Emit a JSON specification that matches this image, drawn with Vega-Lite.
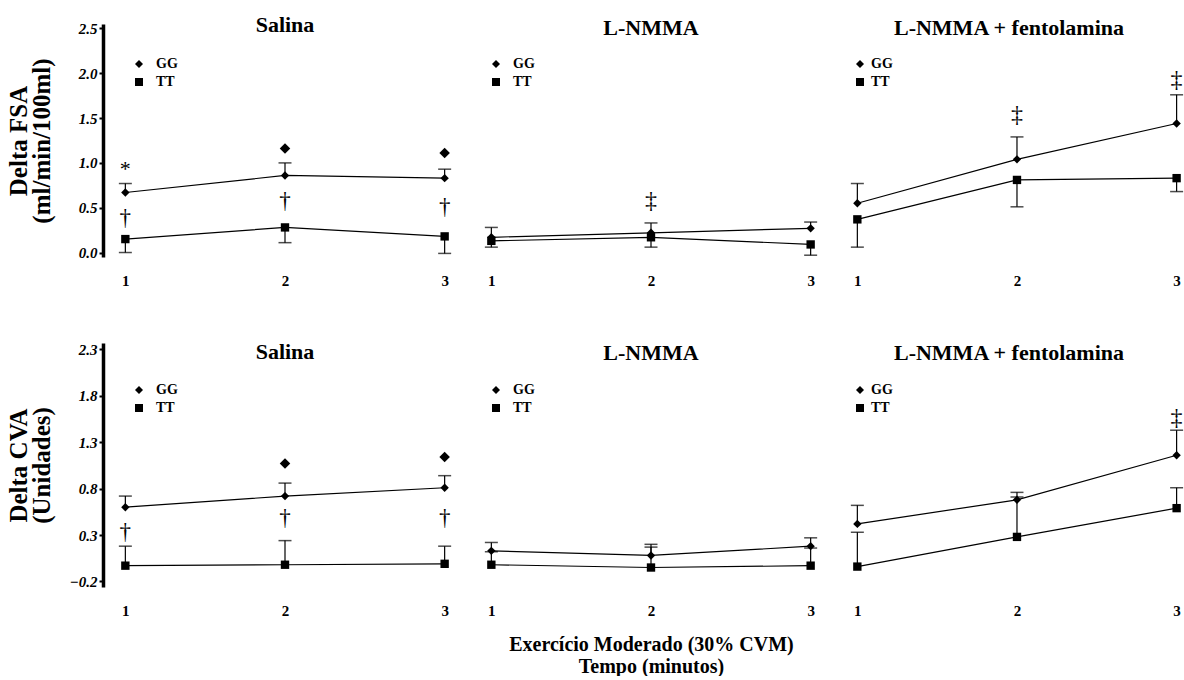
{
  "$schema": "https://vega.github.io/schema/vega-lite/v6.json",
  "padding": {"left": 5, "top": 14, "right": 0, "bottom": 0},
  "background": "white",
  "config": {
    "view": {"stroke": null},
    "font": "Liberation Serif",
    "title": {"font": "Liberation Serif", "fontSize": 22, "fontWeight": "bold", "color": "black"},
    "legend": {"padding": 0}
  },
  "datasets": {
    "pts": [
      {"m": "FSA", "p": "Salina", "grp": "GG", "t": 1, "v": 0.67, "e": 0.77},
      {"m": "FSA", "p": "Salina", "grp": "GG", "t": 2, "v": 0.86, "e": 1.0},
      {"m": "FSA", "p": "Salina", "grp": "GG", "t": 3, "v": 0.83, "e": 0.93},
      {"m": "FSA", "p": "Salina", "grp": "TT", "t": 1, "v": 0.15, "e": 0.0},
      {"m": "FSA", "p": "Salina", "grp": "TT", "t": 2, "v": 0.28, "e": 0.11},
      {"m": "FSA", "p": "Salina", "grp": "TT", "t": 3, "v": 0.18, "e": -0.01},
      {"m": "FSA", "p": "L-NMMA", "grp": "GG", "t": 1, "v": 0.17, "e": 0.28},
      {"m": "FSA", "p": "L-NMMA", "grp": "GG", "t": 2, "v": 0.22, "e": 0.33},
      {"m": "FSA", "p": "L-NMMA", "grp": "GG", "t": 3, "v": 0.27, "e": 0.34},
      {"m": "FSA", "p": "L-NMMA", "grp": "TT", "t": 1, "v": 0.13, "e": 0.06},
      {"m": "FSA", "p": "L-NMMA", "grp": "TT", "t": 2, "v": 0.17, "e": 0.06},
      {"m": "FSA", "p": "L-NMMA", "grp": "TT", "t": 3, "v": 0.09, "e": -0.03},
      {"m": "FSA", "p": "L-NMMA + fentolamina", "grp": "GG", "t": 1, "v": 0.55, "e": 0.77},
      {"m": "FSA", "p": "L-NMMA + fentolamina", "grp": "GG", "t": 2, "v": 1.04, "e": 1.29},
      {"m": "FSA", "p": "L-NMMA + fentolamina", "grp": "GG", "t": 3, "v": 1.44, "e": 1.76},
      {"m": "FSA", "p": "L-NMMA + fentolamina", "grp": "TT", "t": 1, "v": 0.37, "e": 0.06},
      {"m": "FSA", "p": "L-NMMA + fentolamina", "grp": "TT", "t": 2, "v": 0.81, "e": 0.51},
      {"m": "FSA", "p": "L-NMMA + fentolamina", "grp": "TT", "t": 3, "v": 0.83, "e": 0.68},
      {"m": "CVA", "p": "Salina", "grp": "GG", "t": 1, "v": 0.6, "e": 0.72},
      {"m": "CVA", "p": "Salina", "grp": "GG", "t": 2, "v": 0.72, "e": 0.86},
      {"m": "CVA", "p": "Salina", "grp": "GG", "t": 3, "v": 0.81, "e": 0.94},
      {"m": "CVA", "p": "Salina", "grp": "TT", "t": 1, "v": -0.03, "e": 0.18},
      {"m": "CVA", "p": "Salina", "grp": "TT", "t": 2, "v": -0.02, "e": 0.24},
      {"m": "CVA", "p": "Salina", "grp": "TT", "t": 3, "v": -0.01, "e": 0.18},
      {"m": "CVA", "p": "L-NMMA", "grp": "GG", "t": 1, "v": 0.13, "e": 0.22},
      {"m": "CVA", "p": "L-NMMA", "grp": "GG", "t": 2, "v": 0.08, "e": 0.2},
      {"m": "CVA", "p": "L-NMMA", "grp": "GG", "t": 3, "v": 0.18, "e": 0.27},
      {"m": "CVA", "p": "L-NMMA", "grp": "TT", "t": 1, "v": -0.02, "e": 0.12},
      {"m": "CVA", "p": "L-NMMA", "grp": "TT", "t": 2, "v": -0.05, "e": 0.17},
      {"m": "CVA", "p": "L-NMMA", "grp": "TT", "t": 3, "v": -0.03, "e": 0.16},
      {"m": "CVA", "p": "L-NMMA + fentolamina", "grp": "GG", "t": 1, "v": 0.42, "e": 0.62},
      {"m": "CVA", "p": "L-NMMA + fentolamina", "grp": "GG", "t": 2, "v": 0.68, "e": 0.76},
      {"m": "CVA", "p": "L-NMMA + fentolamina", "grp": "GG", "t": 3, "v": 1.16, "e": 1.43},
      {"m": "CVA", "p": "L-NMMA + fentolamina", "grp": "TT", "t": 1, "v": -0.04, "e": 0.33},
      {"m": "CVA", "p": "L-NMMA + fentolamina", "grp": "TT", "t": 2, "v": 0.28, "e": 0.71},
      {"m": "CVA", "p": "L-NMMA + fentolamina", "grp": "TT", "t": 3, "v": 0.59, "e": 0.81}
    ],
    "ann": [
      {"m": "FSA", "p": "Salina", "t": 1, "y": 0.93, "s": "*"},
      {"m": "FSA", "p": "Salina", "t": 1, "y": 0.39, "s": "†"},
      {"m": "FSA", "p": "Salina", "t": 2, "y": 0.57, "s": "†"},
      {"m": "FSA", "p": "Salina", "t": 3, "y": 0.51, "s": "†"},
      {"m": "FSA", "p": "Salina", "t": 2, "y": 1.16, "s": "◆"},
      {"m": "FSA", "p": "Salina", "t": 3, "y": 1.11, "s": "◆"},
      {"m": "FSA", "p": "L-NMMA", "t": 2, "y": 0.58, "s": "‡"},
      {"m": "FSA", "p": "L-NMMA + fentolamina", "t": 2, "y": 1.53, "s": "‡"},
      {"m": "FSA", "p": "L-NMMA + fentolamina", "t": 3, "y": 1.92, "s": "‡"},
      {"m": "CVA", "p": "Salina", "t": 1, "y": 0.33, "s": "†"},
      {"m": "CVA", "p": "Salina", "t": 2, "y": 0.48, "s": "†"},
      {"m": "CVA", "p": "Salina", "t": 3, "y": 0.48, "s": "†"},
      {"m": "CVA", "p": "Salina", "t": 2, "y": 1.07, "s": "◆"},
      {"m": "CVA", "p": "Salina", "t": 3, "y": 1.14, "s": "◆"},
      {"m": "CVA", "p": "L-NMMA + fentolamina", "t": 3, "y": 1.56, "s": "‡"}
    ]
  },
  "spacing": 53,
  "resolve": {"scale": {"shape": "independent"}, "legend": {"shape": "independent"}},
  "vconcat": [
    {
      "bounds": "flush",
      "spacing": 2,
      "resolve": {"scale": {"shape": "independent"}, "legend": {"shape": "independent"}},
      "hconcat": [
        {
          "width": 364, "height": 233,
          "title": {"text": "Salina", "offset": -16},
          "encoding": {"x": {"field": "t", "type": "quantitative", "scale": {"domain": [0.86, 3.14], "nice": false, "zero": false}, "axis": {"values": [1, 2, 3], "format": "d", "title": null, "domain": false, "ticks": false, "grid": false, "labelFlush": false, "labelPadding": 16, "labelFont": "Liberation Serif", "labelFontSize": 15, "labelFontWeight": "bold", "labelColor": "black"}}},
          "layer": [
            {"data": {"name": "pts"}, "transform": [{"filter": "datum.m == 'FSA' && datum.p == 'Salina'"}], "mark": {"type": "rule", "color": "black", "strokeWidth": 1.2},
             "encoding": {"y": {"field": "v", "type": "quantitative", "scale": {"domain": [-0.05, 2.55], "nice": false, "zero": false}, "axis": {"title": ["Delta FSA", "(ml/min/100ml)"], "values": [0, 0.5, 1, 1.5, 2, 2.5], "format": ".1f", "grid": false, "domainColor": "black", "domainWidth": 3.5, "tickColor": "black", "tickSize": 4, "tickWidth": 2, "labelPadding": 2, "labelFont": "Liberation Serif", "labelFontSize": 15, "labelFontWeight": "bold", "labelFontStyle": "italic", "labelColor": "black", "titleFont": "Liberation Serif", "titleFontSize": 25, "titleFontWeight": "bold", "titleLineHeight": 23, "titleColor": "black", "titleX": -72}}, "y2": {"field": "e"}}},
            {"data": {"name": "pts"}, "transform": [{"filter": "datum.m == 'FSA' && datum.p == 'Salina'"}], "mark": {"type": "tick", "orient": "horizontal", "color": "black", "thickness": 1.5, "size": 13},
             "encoding": {"y": {"field": "e", "type": "quantitative", "scale": {"domain": [-0.05, 2.55], "nice": false, "zero": false}, "axis": {"title": ["Delta FSA", "(ml/min/100ml)"], "values": [0, 0.5, 1, 1.5, 2, 2.5], "format": ".1f", "grid": false, "domainColor": "black", "domainWidth": 3.5, "tickColor": "black", "tickSize": 4, "tickWidth": 2, "labelPadding": 2, "labelFont": "Liberation Serif", "labelFontSize": 15, "labelFontWeight": "bold", "labelFontStyle": "italic", "labelColor": "black", "titleFont": "Liberation Serif", "titleFontSize": 25, "titleFontWeight": "bold", "titleLineHeight": 23, "titleColor": "black", "titleX": -72}}}},
            {"data": {"name": "pts"}, "transform": [{"filter": "datum.m == 'FSA' && datum.p == 'Salina'"}], "mark": {"type": "line", "color": "black", "strokeWidth": 1.2},
             "encoding": {"y": {"field": "v", "type": "quantitative", "scale": {"domain": [-0.05, 2.55], "nice": false, "zero": false}, "axis": {"title": ["Delta FSA", "(ml/min/100ml)"], "values": [0, 0.5, 1, 1.5, 2, 2.5], "format": ".1f", "grid": false, "domainColor": "black", "domainWidth": 3.5, "tickColor": "black", "tickSize": 4, "tickWidth": 2, "labelPadding": 2, "labelFont": "Liberation Serif", "labelFontSize": 15, "labelFontWeight": "bold", "labelFontStyle": "italic", "labelColor": "black", "titleFont": "Liberation Serif", "titleFontSize": 25, "titleFontWeight": "bold", "titleLineHeight": 23, "titleColor": "black", "titleX": -72}}, "detail": {"field": "grp"}, "order": {"field": "t"}}},
            {"data": {"name": "pts"}, "transform": [{"filter": "datum.m == 'FSA' && datum.p == 'Salina'"}], "mark": {"type": "point", "filled": true, "color": "black", "opacity": 1, "size": 70},
             "encoding": {"y": {"field": "v", "type": "quantitative", "scale": {"domain": [-0.05, 2.55], "nice": false, "zero": false}, "axis": {"title": ["Delta FSA", "(ml/min/100ml)"], "values": [0, 0.5, 1, 1.5, 2, 2.5], "format": ".1f", "grid": false, "domainColor": "black", "domainWidth": 3.5, "tickColor": "black", "tickSize": 4, "tickWidth": 2, "labelPadding": 2, "labelFont": "Liberation Serif", "labelFontSize": 15, "labelFontWeight": "bold", "labelFontStyle": "italic", "labelColor": "black", "titleFont": "Liberation Serif", "titleFontSize": 25, "titleFontWeight": "bold", "titleLineHeight": 23, "titleColor": "black", "titleX": -72}},
               "shape": {"field": "grp", "type": "nominal", "scale": {"domain": ["GG", "TT"], "range": ["diamond", "square"]}, "legend": {"orient": "none", "legendX": 29, "legendY": 33, "title": null, "labelFont": "Liberation Serif", "labelFontSize": 14, "labelFontWeight": "bold", "labelColor": "black", "labelOffset": 10, "symbolSize": 64, "symbolFillColor": "black", "symbolStrokeColor": "black", "symbolOpacity": 1, "rowPadding": 4}}}},
            {"data": {"name": "ann"}, "transform": [{"filter": "datum.m == 'FSA' && datum.p == 'Salina' && datum.s == '◆'"}], "mark": {"type": "point", "shape": "diamond", "filled": true, "color": "black", "opacity": 1, "size": 110},
             "encoding": {"y": {"field": "y", "type": "quantitative", "scale": {"domain": [-0.05, 2.55], "nice": false, "zero": false}, "axis": {"title": ["Delta FSA", "(ml/min/100ml)"], "values": [0, 0.5, 1, 1.5, 2, 2.5], "format": ".1f", "grid": false, "domainColor": "black", "domainWidth": 3.5, "tickColor": "black", "tickSize": 4, "tickWidth": 2, "labelPadding": 2, "labelFont": "Liberation Serif", "labelFontSize": 15, "labelFontWeight": "bold", "labelFontStyle": "italic", "labelColor": "black", "titleFont": "Liberation Serif", "titleFontSize": 25, "titleFontWeight": "bold", "titleLineHeight": 23, "titleColor": "black", "titleX": -72}}}},
            {"data": {"name": "ann"}, "transform": [{"filter": "datum.m == 'FSA' && datum.p == 'Salina' && datum.s != '◆'"}], "mark": {"type": "text", "color": "black", "font": "Liberation Serif", "baseline": "middle"},
             "encoding": {"y": {"field": "y", "type": "quantitative", "scale": {"domain": [-0.05, 2.55], "nice": false, "zero": false}, "axis": {"title": ["Delta FSA", "(ml/min/100ml)"], "values": [0, 0.5, 1, 1.5, 2, 2.5], "format": ".1f", "grid": false, "domainColor": "black", "domainWidth": 3.5, "tickColor": "black", "tickSize": 4, "tickWidth": 2, "labelPadding": 2, "labelFont": "Liberation Serif", "labelFontSize": 15, "labelFontWeight": "bold", "labelFontStyle": "italic", "labelColor": "black", "titleFont": "Liberation Serif", "titleFontSize": 25, "titleFontWeight": "bold", "titleLineHeight": 23, "titleColor": "black", "titleX": -72}},
               "text": {"field": "s"}, "size": {"field": "s", "type": "nominal", "scale": {"domain": ["*", "†", "‡"], "range": [22, 24, 24]}, "legend": null}}}
          ]
        },
        {
          "width": 364, "height": 233,
          "title": {"text": "L-NMMA", "offset": -16},
          "encoding": {"x": {"field": "t", "type": "quantitative", "scale": {"domain": [0.86, 3.14], "nice": false, "zero": false}, "axis": {"values": [1, 2, 3], "format": "d", "title": null, "domain": false, "ticks": false, "grid": false, "labelFlush": false, "labelPadding": 16, "labelFont": "Liberation Serif", "labelFontSize": 15, "labelFontWeight": "bold", "labelColor": "black"}}},
          "layer": [
            {"data": {"name": "pts"}, "transform": [{"filter": "datum.m == 'FSA' && datum.p == 'L-NMMA'"}], "mark": {"type": "rule", "color": "black", "strokeWidth": 1.2},
             "encoding": {"y": {"field": "v", "type": "quantitative", "scale": {"domain": [-0.05, 2.55], "nice": false, "zero": false}, "axis": null}, "y2": {"field": "e"}}},
            {"data": {"name": "pts"}, "transform": [{"filter": "datum.m == 'FSA' && datum.p == 'L-NMMA'"}], "mark": {"type": "tick", "orient": "horizontal", "color": "black", "thickness": 1.5, "size": 13},
             "encoding": {"y": {"field": "e", "type": "quantitative", "scale": {"domain": [-0.05, 2.55], "nice": false, "zero": false}, "axis": null}}},
            {"data": {"name": "pts"}, "transform": [{"filter": "datum.m == 'FSA' && datum.p == 'L-NMMA'"}], "mark": {"type": "line", "color": "black", "strokeWidth": 1.2},
             "encoding": {"y": {"field": "v", "type": "quantitative", "scale": {"domain": [-0.05, 2.55], "nice": false, "zero": false}, "axis": null}, "detail": {"field": "grp"}, "order": {"field": "t"}}},
            {"data": {"name": "pts"}, "transform": [{"filter": "datum.m == 'FSA' && datum.p == 'L-NMMA'"}], "mark": {"type": "point", "filled": true, "color": "black", "opacity": 1, "size": 70},
             "encoding": {"y": {"field": "v", "type": "quantitative", "scale": {"domain": [-0.05, 2.55], "nice": false, "zero": false}, "axis": null},
               "shape": {"field": "grp", "type": "nominal", "scale": {"domain": ["GG", "TT"], "range": ["diamond", "square"]}, "legend": {"orient": "none", "legendX": 20, "legendY": 33, "title": null, "labelFont": "Liberation Serif", "labelFontSize": 14, "labelFontWeight": "bold", "labelColor": "black", "labelOffset": 10, "symbolSize": 64, "symbolFillColor": "black", "symbolStrokeColor": "black", "symbolOpacity": 1, "rowPadding": 4}}}},
            {"data": {"name": "ann"}, "transform": [{"filter": "datum.m == 'FSA' && datum.p == 'L-NMMA'"}], "mark": {"type": "text", "color": "black", "font": "Liberation Serif", "baseline": "middle"},
             "encoding": {"y": {"field": "y", "type": "quantitative", "scale": {"domain": [-0.05, 2.55], "nice": false, "zero": false}, "axis": null},
               "text": {"field": "s"}, "size": {"field": "s", "type": "nominal", "scale": {"domain": ["*", "†", "‡"], "range": [22, 24, 24]}, "legend": null}}}
          ]
        },
        {
          "width": 348, "height": 233,
          "title": {"text": "L-NMMA + fentolamina", "offset": -16},
          "encoding": {"x": {"field": "t", "type": "quantitative", "scale": {"domain": [0.86, 3.04], "nice": false, "zero": false}, "axis": {"values": [1, 2, 3], "format": "d", "title": null, "domain": false, "ticks": false, "grid": false, "labelFlush": false, "labelPadding": 16, "labelFont": "Liberation Serif", "labelFontSize": 15, "labelFontWeight": "bold", "labelColor": "black"}}},
          "layer": [
            {"data": {"name": "pts"}, "transform": [{"filter": "datum.m == 'FSA' && datum.p == 'L-NMMA + fentolamina'"}], "mark": {"type": "rule", "color": "black", "strokeWidth": 1.2},
             "encoding": {"y": {"field": "v", "type": "quantitative", "scale": {"domain": [-0.05, 2.55], "nice": false, "zero": false}, "axis": null}, "y2": {"field": "e"}}},
            {"data": {"name": "pts"}, "transform": [{"filter": "datum.m == 'FSA' && datum.p == 'L-NMMA + fentolamina'"}], "mark": {"type": "tick", "orient": "horizontal", "color": "black", "thickness": 1.5, "size": 13},
             "encoding": {"y": {"field": "e", "type": "quantitative", "scale": {"domain": [-0.05, 2.55], "nice": false, "zero": false}, "axis": null}}},
            {"data": {"name": "pts"}, "transform": [{"filter": "datum.m == 'FSA' && datum.p == 'L-NMMA + fentolamina'"}], "mark": {"type": "line", "color": "black", "strokeWidth": 1.2},
             "encoding": {"y": {"field": "v", "type": "quantitative", "scale": {"domain": [-0.05, 2.55], "nice": false, "zero": false}, "axis": null}, "detail": {"field": "grp"}, "order": {"field": "t"}}},
            {"data": {"name": "pts"}, "transform": [{"filter": "datum.m == 'FSA' && datum.p == 'L-NMMA + fentolamina'"}], "mark": {"type": "point", "filled": true, "color": "black", "opacity": 1, "size": 70},
             "encoding": {"y": {"field": "v", "type": "quantitative", "scale": {"domain": [-0.05, 2.55], "nice": false, "zero": false}, "axis": null},
               "shape": {"field": "grp", "type": "nominal", "scale": {"domain": ["GG", "TT"], "range": ["diamond", "square"]}, "legend": {"orient": "none", "legendX": 18, "legendY": 33, "title": null, "labelFont": "Liberation Serif", "labelFontSize": 14, "labelFontWeight": "bold", "labelColor": "black", "labelOffset": 4, "symbolSize": 64, "symbolFillColor": "black", "symbolStrokeColor": "black", "symbolOpacity": 1, "rowPadding": 4}}}},
            {"data": {"name": "ann"}, "transform": [{"filter": "datum.m == 'FSA' && datum.p == 'L-NMMA + fentolamina'"}], "mark": {"type": "text", "color": "black", "font": "Liberation Serif", "baseline": "middle"},
             "encoding": {"y": {"field": "y", "type": "quantitative", "scale": {"domain": [-0.05, 2.55], "nice": false, "zero": false}, "axis": null},
               "text": {"field": "s"}, "size": {"field": "s", "type": "nominal", "scale": {"domain": ["*", "†", "‡"], "range": [22, 24, 24]}, "legend": null}}}
          ]
        }
      ]
    },
    {
      "bounds": "flush",
      "spacing": 2,
      "resolve": {"scale": {"shape": "independent"}, "legend": {"shape": "independent"}},
      "hconcat": [
        {
          "width": 364, "height": 244,
          "title": {"text": "Salina", "offset": -22},
          "encoding": {"x": {"field": "t", "type": "quantitative", "scale": {"domain": [0.86, 3.14], "nice": false, "zero": false}, "axis": {"values": [1, 2, 3], "format": "d", "title": null, "domain": false, "ticks": false, "grid": false, "labelFlush": false, "labelPadding": 16, "labelFont": "Liberation Serif", "labelFontSize": 15, "labelFontWeight": "bold", "labelColor": "black"}}},
          "layer": [
            {"data": {"name": "pts"}, "transform": [{"filter": "datum.m == 'CVA' && datum.p == 'Salina'"}], "mark": {"type": "rule", "color": "black", "strokeWidth": 1.2},
             "encoding": {"y": {"field": "v", "type": "quantitative", "scale": {"domain": [-0.26, 2.37], "nice": false, "zero": false}, "axis": {"title": ["Delta CVA", "(Unidades)"], "values": [-0.2, 0.3, 0.8, 1.3, 1.8, 2.3], "format": ".1f", "grid": false, "domainColor": "black", "domainWidth": 3.5, "tickColor": "black", "tickSize": 4, "tickWidth": 2, "labelPadding": 2, "labelFont": "Liberation Serif", "labelFontSize": 15, "labelFontWeight": "bold", "labelFontStyle": "italic", "labelColor": "black", "titleFont": "Liberation Serif", "titleFontSize": 25, "titleFontWeight": "bold", "titleLineHeight": 23, "titleColor": "black", "titleX": -72}}, "y2": {"field": "e"}}},
            {"data": {"name": "pts"}, "transform": [{"filter": "datum.m == 'CVA' && datum.p == 'Salina'"}], "mark": {"type": "tick", "orient": "horizontal", "color": "black", "thickness": 1.5, "size": 13},
             "encoding": {"y": {"field": "e", "type": "quantitative", "scale": {"domain": [-0.26, 2.37], "nice": false, "zero": false}, "axis": {"title": ["Delta CVA", "(Unidades)"], "values": [-0.2, 0.3, 0.8, 1.3, 1.8, 2.3], "format": ".1f", "grid": false, "domainColor": "black", "domainWidth": 3.5, "tickColor": "black", "tickSize": 4, "tickWidth": 2, "labelPadding": 2, "labelFont": "Liberation Serif", "labelFontSize": 15, "labelFontWeight": "bold", "labelFontStyle": "italic", "labelColor": "black", "titleFont": "Liberation Serif", "titleFontSize": 25, "titleFontWeight": "bold", "titleLineHeight": 23, "titleColor": "black", "titleX": -72}}}},
            {"data": {"name": "pts"}, "transform": [{"filter": "datum.m == 'CVA' && datum.p == 'Salina'"}], "mark": {"type": "line", "color": "black", "strokeWidth": 1.2},
             "encoding": {"y": {"field": "v", "type": "quantitative", "scale": {"domain": [-0.26, 2.37], "nice": false, "zero": false}, "axis": {"title": ["Delta CVA", "(Unidades)"], "values": [-0.2, 0.3, 0.8, 1.3, 1.8, 2.3], "format": ".1f", "grid": false, "domainColor": "black", "domainWidth": 3.5, "tickColor": "black", "tickSize": 4, "tickWidth": 2, "labelPadding": 2, "labelFont": "Liberation Serif", "labelFontSize": 15, "labelFontWeight": "bold", "labelFontStyle": "italic", "labelColor": "black", "titleFont": "Liberation Serif", "titleFontSize": 25, "titleFontWeight": "bold", "titleLineHeight": 23, "titleColor": "black", "titleX": -72}}, "detail": {"field": "grp"}, "order": {"field": "t"}}},
            {"data": {"name": "pts"}, "transform": [{"filter": "datum.m == 'CVA' && datum.p == 'Salina'"}], "mark": {"type": "point", "filled": true, "color": "black", "opacity": 1, "size": 70},
             "encoding": {"y": {"field": "v", "type": "quantitative", "scale": {"domain": [-0.26, 2.37], "nice": false, "zero": false}, "axis": {"title": ["Delta CVA", "(Unidades)"], "values": [-0.2, 0.3, 0.8, 1.3, 1.8, 2.3], "format": ".1f", "grid": false, "domainColor": "black", "domainWidth": 3.5, "tickColor": "black", "tickSize": 4, "tickWidth": 2, "labelPadding": 2, "labelFont": "Liberation Serif", "labelFontSize": 15, "labelFontWeight": "bold", "labelFontStyle": "italic", "labelColor": "black", "titleFont": "Liberation Serif", "titleFontSize": 25, "titleFontWeight": "bold", "titleLineHeight": 23, "titleColor": "black", "titleX": -72}},
               "shape": {"field": "grp", "type": "nominal", "scale": {"domain": ["GG", "TT"], "range": ["diamond", "square"]}, "legend": {"orient": "none", "legendX": 29, "legendY": 40, "title": null, "labelFont": "Liberation Serif", "labelFontSize": 14, "labelFontWeight": "bold", "labelColor": "black", "labelOffset": 10, "symbolSize": 64, "symbolFillColor": "black", "symbolStrokeColor": "black", "symbolOpacity": 1, "rowPadding": 4}}}},
            {"data": {"name": "ann"}, "transform": [{"filter": "datum.m == 'CVA' && datum.p == 'Salina' && datum.s == '◆'"}], "mark": {"type": "point", "shape": "diamond", "filled": true, "color": "black", "opacity": 1, "size": 110},
             "encoding": {"y": {"field": "y", "type": "quantitative", "scale": {"domain": [-0.26, 2.37], "nice": false, "zero": false}, "axis": {"title": ["Delta CVA", "(Unidades)"], "values": [-0.2, 0.3, 0.8, 1.3, 1.8, 2.3], "format": ".1f", "grid": false, "domainColor": "black", "domainWidth": 3.5, "tickColor": "black", "tickSize": 4, "tickWidth": 2, "labelPadding": 2, "labelFont": "Liberation Serif", "labelFontSize": 15, "labelFontWeight": "bold", "labelFontStyle": "italic", "labelColor": "black", "titleFont": "Liberation Serif", "titleFontSize": 25, "titleFontWeight": "bold", "titleLineHeight": 23, "titleColor": "black", "titleX": -72}}}},
            {"data": {"name": "ann"}, "transform": [{"filter": "datum.m == 'CVA' && datum.p == 'Salina' && datum.s != '◆'"}], "mark": {"type": "text", "color": "black", "font": "Liberation Serif", "baseline": "middle"},
             "encoding": {"y": {"field": "y", "type": "quantitative", "scale": {"domain": [-0.26, 2.37], "nice": false, "zero": false}, "axis": {"title": ["Delta CVA", "(Unidades)"], "values": [-0.2, 0.3, 0.8, 1.3, 1.8, 2.3], "format": ".1f", "grid": false, "domainColor": "black", "domainWidth": 3.5, "tickColor": "black", "tickSize": 4, "tickWidth": 2, "labelPadding": 2, "labelFont": "Liberation Serif", "labelFontSize": 15, "labelFontWeight": "bold", "labelFontStyle": "italic", "labelColor": "black", "titleFont": "Liberation Serif", "titleFontSize": 25, "titleFontWeight": "bold", "titleLineHeight": 23, "titleColor": "black", "titleX": -72}},
               "text": {"field": "s"}, "size": {"field": "s", "type": "nominal", "scale": {"domain": ["*", "†", "‡"], "range": [22, 24, 24]}, "legend": null}}}
          ]
        },
        {
          "width": 364, "height": 244,
          "title": {"text": "L-NMMA", "offset": -22},
          "encoding": {"x": {"field": "t", "type": "quantitative", "scale": {"domain": [0.86, 3.14], "nice": false, "zero": false}, "axis": {"values": [1, 2, 3], "format": "d", "domain": false, "ticks": false, "grid": false, "labelFlush": false, "labelPadding": 16, "labelFont": "Liberation Serif", "labelFontSize": 15, "labelFontWeight": "bold", "labelColor": "black", "title": ["Exercício Moderado (30% CVM)", "Tempo (minutos)"], "titleFont": "Liberation Serif", "titleFontSize": 20, "titleFontWeight": "bold", "titleLineHeight": 22, "titlePadding": 16, "titleColor": "black"}}},
          "layer": [
            {"data": {"name": "pts"}, "transform": [{"filter": "datum.m == 'CVA' && datum.p == 'L-NMMA'"}], "mark": {"type": "rule", "color": "black", "strokeWidth": 1.2},
             "encoding": {"y": {"field": "v", "type": "quantitative", "scale": {"domain": [-0.26, 2.37], "nice": false, "zero": false}, "axis": null}, "y2": {"field": "e"}}},
            {"data": {"name": "pts"}, "transform": [{"filter": "datum.m == 'CVA' && datum.p == 'L-NMMA'"}], "mark": {"type": "tick", "orient": "horizontal", "color": "black", "thickness": 1.5, "size": 13},
             "encoding": {"y": {"field": "e", "type": "quantitative", "scale": {"domain": [-0.26, 2.37], "nice": false, "zero": false}, "axis": null}}},
            {"data": {"name": "pts"}, "transform": [{"filter": "datum.m == 'CVA' && datum.p == 'L-NMMA'"}], "mark": {"type": "line", "color": "black", "strokeWidth": 1.2},
             "encoding": {"y": {"field": "v", "type": "quantitative", "scale": {"domain": [-0.26, 2.37], "nice": false, "zero": false}, "axis": null}, "detail": {"field": "grp"}, "order": {"field": "t"}}},
            {"data": {"name": "pts"}, "transform": [{"filter": "datum.m == 'CVA' && datum.p == 'L-NMMA'"}], "mark": {"type": "point", "filled": true, "color": "black", "opacity": 1, "size": 70},
             "encoding": {"y": {"field": "v", "type": "quantitative", "scale": {"domain": [-0.26, 2.37], "nice": false, "zero": false}, "axis": null},
               "shape": {"field": "grp", "type": "nominal", "scale": {"domain": ["GG", "TT"], "range": ["diamond", "square"]}, "legend": {"orient": "none", "legendX": 20, "legendY": 40, "title": null, "labelFont": "Liberation Serif", "labelFontSize": 14, "labelFontWeight": "bold", "labelColor": "black", "labelOffset": 10, "symbolSize": 64, "symbolFillColor": "black", "symbolStrokeColor": "black", "symbolOpacity": 1, "rowPadding": 4}}}}
          ]
        },
        {
          "width": 348, "height": 244,
          "title": {"text": "L-NMMA + fentolamina", "offset": -22},
          "encoding": {"x": {"field": "t", "type": "quantitative", "scale": {"domain": [0.86, 3.04], "nice": false, "zero": false}, "axis": {"values": [1, 2, 3], "format": "d", "title": null, "domain": false, "ticks": false, "grid": false, "labelFlush": false, "labelPadding": 16, "labelFont": "Liberation Serif", "labelFontSize": 15, "labelFontWeight": "bold", "labelColor": "black"}}},
          "layer": [
            {"data": {"name": "pts"}, "transform": [{"filter": "datum.m == 'CVA' && datum.p == 'L-NMMA + fentolamina'"}], "mark": {"type": "rule", "color": "black", "strokeWidth": 1.2},
             "encoding": {"y": {"field": "v", "type": "quantitative", "scale": {"domain": [-0.26, 2.37], "nice": false, "zero": false}, "axis": null}, "y2": {"field": "e"}}},
            {"data": {"name": "pts"}, "transform": [{"filter": "datum.m == 'CVA' && datum.p == 'L-NMMA + fentolamina'"}], "mark": {"type": "tick", "orient": "horizontal", "color": "black", "thickness": 1.5, "size": 13},
             "encoding": {"y": {"field": "e", "type": "quantitative", "scale": {"domain": [-0.26, 2.37], "nice": false, "zero": false}, "axis": null}}},
            {"data": {"name": "pts"}, "transform": [{"filter": "datum.m == 'CVA' && datum.p == 'L-NMMA + fentolamina'"}], "mark": {"type": "line", "color": "black", "strokeWidth": 1.2},
             "encoding": {"y": {"field": "v", "type": "quantitative", "scale": {"domain": [-0.26, 2.37], "nice": false, "zero": false}, "axis": null}, "detail": {"field": "grp"}, "order": {"field": "t"}}},
            {"data": {"name": "pts"}, "transform": [{"filter": "datum.m == 'CVA' && datum.p == 'L-NMMA + fentolamina'"}], "mark": {"type": "point", "filled": true, "color": "black", "opacity": 1, "size": 70},
             "encoding": {"y": {"field": "v", "type": "quantitative", "scale": {"domain": [-0.26, 2.37], "nice": false, "zero": false}, "axis": null},
               "shape": {"field": "grp", "type": "nominal", "scale": {"domain": ["GG", "TT"], "range": ["diamond", "square"]}, "legend": {"orient": "none", "legendX": 18, "legendY": 40, "title": null, "labelFont": "Liberation Serif", "labelFontSize": 14, "labelFontWeight": "bold", "labelColor": "black", "labelOffset": 4, "symbolSize": 64, "symbolFillColor": "black", "symbolStrokeColor": "black", "symbolOpacity": 1, "rowPadding": 4}}}},
            {"data": {"name": "ann"}, "transform": [{"filter": "datum.m == 'CVA' && datum.p == 'L-NMMA + fentolamina'"}], "mark": {"type": "text", "color": "black", "font": "Liberation Serif", "baseline": "middle"},
             "encoding": {"y": {"field": "y", "type": "quantitative", "scale": {"domain": [-0.26, 2.37], "nice": false, "zero": false}, "axis": null},
               "text": {"field": "s"}, "size": {"field": "s", "type": "nominal", "scale": {"domain": ["*", "†", "‡"], "range": [22, 24, 24]}, "legend": null}}}
          ]
        }
      ]
    }
  ]
}
